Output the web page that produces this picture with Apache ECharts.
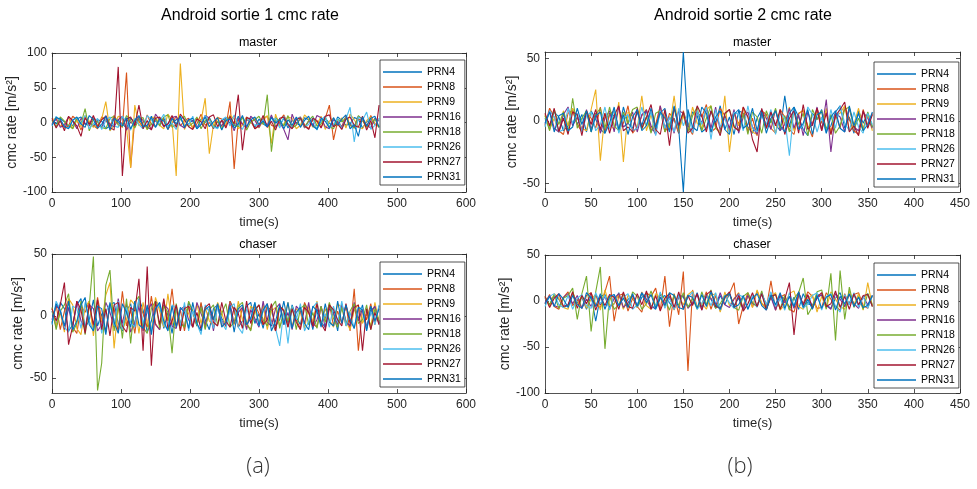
<!DOCTYPE html>
<html><head><meta charset="utf-8">
<script src="https://cdn.jsdelivr.net/npm/echarts@6/dist/echarts.min.js"></script>
<style>html,body{margin:0;padding:0;background:#fff}#c{width:977px;height:489px}</style>
</head><body><div id="c"></div>
<script>
const names = ['PRN4','PRN8','PRN9','PRN16','PRN18','PRN26','PRN27','PRN31'];
const colors = ['#0072BD','#D95319','#EDB120','#7E2F8E','#77AC30','#4DBEEE','#A2142F','#0072BD'];
const figTitles = ['Android sortie 1 cmc rate','Android sortie 2 cmc rate'];
const panelTitles = ['master','chaser'];
const subLabels = ['(a)','(b)'];
const yTicks1m = [-100,-50,0,50,100];
const yTicks1c = [-50,0,50];
const yTicks2m = [-50,0,50];
const yTicks2c = [-100,-50,0,50];

// time (s) samples
const t1 = [0,6,12,18,24,30,36,42,48,54,60,66,72,78,84,90,96,102,108,114,120,126,132,138,144,150,156,162,168,174,180,186,192,198,204,210,216,222,228,234,240,246,252,258,264,270,276,282,288,294,300,306,312,318,324,330,336,342,348,354,360,366,372,378,384,390,396,402,408,414,420,426,432,438,444,450,456,462,468,474];
const t2 = [0,5,10,15,20,25,30,35,40,45,50,55,60,65,70,75,80,85,90,95,100,105,110,115,120,125,130,135,140,145,150,155,160,165,170,175,180,185,190,195,200,205,210,215,220,225,230,235,240,245,250,255,260,265,270,275,280,285,290,295,300,305,310,315,320,325,330,335,340,345,350,355];

// sortie 1 master
const m1_PRN4 = [3,-2,6,1,-7,-4,5,8,-3,0, -6,4,2,-9,-5,7,3,-2,-8,6, 1,5,-4,-7,9,2,-3,6,-5,-1, 4,8,-6,-2,3,-9,5,0,7,-4, -8,3,6,-1,-5,9,-3,4,2,-7, 5,-2,-6,8,1,-4,6,-8,3,0, -5,7,4,-3,-9,2,6,-1,-6,8, 3,-4,-2,7,5,-8,1,6,-3,-5];
const m1_PRN8 = [-3,7,2,-8,-5,9,4,-11,6,1, -4,-9,8,3,-6,10,-2,-7,72,-65, 5,2,-8,11,-3,-6,7,4,-10,-1, 9,-5,3,6,-9,-2,12,-4,0,-8, 7,5,-6,30,-67,4,-3,8,2,-9, -5,6,9,-4,-7,3,11,-2,-6,5, 8,-3,-9,4,1,-7,6,25,-25,2, -6,9,-4,-8,5,3,-7,10,-2,-5];
const m1_PRN9 = [4,6,-5,-2,8,-9,3,-6,10,2, -7,-3,5,30,-12,-4,9,6,-8,-65, 25,-5,1,-10,7,8,-4,-9,12,3, -77,85,-10,4,-7,6,2,35,-45,-3, 8,-6,-2,11,5,-9,-4,7,-1,6, -8,3,10,-30,12,-5,-2,8,6,-9, -4,11,5,-7,-3,9,-10,2,6,-5, 7,-8,12,4,-6,-9,3,8,-2,-7];
const m1_PRN16 = [-2,5,-7,-4,8,3,-9,6,-1,-5, 7,2,-8,10,-3,-6,4,9,-11,1, -5,8,3,-7,-10,12,4,-6,-2,7, 9,-4,-8,5,2,-6,-3,10,6,-9, 1,-5,7,4,-12,6,-2,-8,9,3, -7,5,-4,11,-6,0,-10,-25,12,-3, 6,-8,2,-5,10,7,-6,-9,4,1, -7,8,-3,-6,9,5,-4,-8,6,2];
const m1_PRN18 = [3,-6,8,2,-4,-9,7,-2,20,-12, 5,1,-7,-9,6,9,-4,-6,10,3, -8,5,7,-10,-2,6,-5,8,11,-7, -3,4,9,-6,-1,8,-9,3,6,-8, 2,-10,5,7,-4,-6,8,-11,1,4, 9,-3,40,-42,7,2,-5,10,-8,-4, 6,-7,3,9,-5,-2,8,-6,-9,5, 1,7,-4,-8,10,3,-6,-2,5,-7];
const m1_PRN26 = [-5,9,2,-6,-8,4,7,-3,10,-9, -2,6,-10,3,8,-5,-7,9,1,-11, 6,-3,-9,10,4,-7,2,12,-6,-1, -10,7,5,-4,9,-8,-2,10,3,-6, -9,4,8,-5,11,-3,-10,6,2,-4, -3,4,-5,1,6,-8,9,-2,-7,5, 8,-6,-3,7,-11,4,9,-8,-2,6, -9,5,22,-28,8,3,15,-10,-4,6];
const m1_PRN27 = [6,-8,3,-12,9,2,-5,-20,7,-3, 10,-6,4,9,-7,-11,80,-77,5,8, -4,25,-9,3,-11,6,8,-5,-2,10, -7,12,4,-6,-10,5,1,-9,8,11, -6,3,-8,9,-2,40,-40,7,5,-9, -4,10,-7,2,-11,6,8,-3,-9,4, 7,-5,-10,6,3,-8,9,11,-6,-2, -10,5,8,-4,-7,9,-11,3,-22,25];
const m1_PRN31 = [-4,7,5,-6,-9,3,8,-2,-7,10, 4,-8,-3,9,-11,6,1,-5,7,-9, 3,10,-6,-4,8,-7,5,2,-10,6, -2,9,-7,4,6,-9,-3,8,-6,1, 7,-11,3,5,-8,-2,10,-6,4,8, -3,2,-6,7,-1,5,-9,4,-4,8, -7,3,9,-5,-10,6,2,-8,7,-4, 5,11,-9,-3,-20,8,-5,6,9,-7];

// sortie 1 chaser
const c1_PRN4 = [4,-9,11,6,-12,-7,9,14,-10,-3, 13,-8,2,-15,9,11,-6,-12,4,10, -9,14,5,-13,-4,12,8,-10,3,-14, 7,-5,-9,11,4,-8,10,-3,-11,6, 9,-2,-7,12,5,-9,-4,8,11,-6, 2,-10,7,5,-8,-3,12,-6,9,-1, -7,10,4,-11,6,-5,-9,8,3,-12, 10,-4,-8,6,-2,9,-10,5,7,-6];
const c1_PRN8 = [-5,9,-11,4,13,-9,-14,8,3,12, -10,15,-3,-12,9,6,-13,20,-8,5, -14,11,2,-9,16,-6,-11,13,-4,22, -9,5,-12,8,3,-7,11,-10,6,-2, 10,-8,-5,12,4,-9,7,-6,-11,9, 2,-7,10,-4,-12,8,5,-9,6,-3, -10,11,3,-6,-9,7,-2,10,-8,4, -6,9,-12,22,-28,6,-3,10,-7,8];
const c1_PRN9 = [6,-8,3,-13,14,9,-10,-15,7,12, -16,10,-5,17,27,-26,8,-11,-3,13, 9,-14,11,-6,-12,15,4,-9,18,-7, 5,-12,8,2,-9,10,-6,7,-4,-8, 11,3,-9,6,-7,12,-3,-10,8,5, -6,9,-11,4,7,-8,-2,11,-9,6, 3,-10,8,-5,12,-7,6,-3,-9,10, 7,-4,-11,5,9,-6,2,-8,11,-5];
const c1_PRN16 = [-3,8,5,-11,7,-9,12,-4,-10,9, 6,-12,-7,11,3,-9,14,-6,10,-13, -5,8,-12,4,10,-7,-11,9,6,-8, -10,5,8,-3,-9,11,2,-7,6,-12, 9,-4,-8,10,-6,3,7,-11,5,-2, -9,12,-5,-8,6,10,-7,3,-11,8, 4,-6,11,-9,-3,8,-10,6,2,-7, 9,-5,-8,11,-4,6,-9,3,8,-6];
const c1_PRN18 = [7,-11,4,9,18,-13,-6,12,-15,8, 48,-60,-38,25,37,-12,9,-18,14,-22, 11,16,-9,-14,6,12,-10,8,3,-30, 10,-6,-9,12,4,-8,7,-11,5,9, -7,2,10,-9,-5,8,11,-6,-12,4, 9,-3,-8,7,12,-10,5,-4,8,-11, 6,9,-7,3,-10,8,-5,11,-2,-9, 7,-8,4,10,-6,-3,9,-11,6,-4];
const c1_PRN26 = [-7,12,5,-9,-13,8,6,-10,11,-4, -12,9,-14,3,10,-8,12,-11,7,-5, -9,14,-6,8,-12,5,10,-7,-11,9, 6,-8,11,-12,4,-6,-15,9,3,-10, 8,-5,-11,7,10,-9,-14,6,-3,11, -8,4,9,-6,-10,-24,5,-22,8,-3, 10,-12,-4,7,11,-6,2,-9,8,-5, 12,-8,3,-10,7,6,-11,4,-7,9];
const c1_PRN27 = [6,-4,9,27,-23,-8,12,5,-14,10, -7,13,-11,6,-16,9,11,-8,-13,7, 4,30,-28,40,-40,12,-7,14,-10,-4, 9,-12,6,8,-9,3,-11,7,10,-5, -8,11,-4,-9,7,2,-10,12,-6,5, 9,-7,-3,10,-12,8,4,-9,6,-5, -11,7,3,-8,10,-6,-12,9,5,-3, -8,10,-6,7,9,-28,6,-11,3,-7];
const c1_PRN31 = [-6,10,4,-8,12,-11,-4,9,15,-7, -12,8,6,-13,11,-5,-14,10,3,-9, 12,-7,-10,9,-15,6,11,-4,-12,8, -9,7,3,-10,11,-6,-12,5,8,-3, 10,-9,-5,8,-13,6,9,-7,-2,11, -8,5,10,-12,-4,9,-7,11,-10,3, 7,-6,-11,8,4,-9,10,-5,-8,12, -6,9,-3,-10,7,5,-12,8,-4,6];

// sortie 2 master
const m2_PRN4 = [2,-6,7,3,-8,-4,9,-3,5,-9, 8,1,-7,-10,6,4,-8,11,-2,-6, 7,-4,9,-9,-3,6,10,-7,2,-10, 55,-5,7,4,-9,-6,8,-2,12,-7, 3,-11,8,6,-5,-10,2,9,-6,7, -3,-8,20,-5,11,3,-7,-12,6,1, 9,-8,-4,7,12,-6,3,-10,8,-2, 6,-5];
const m2_PRN8 = [-4,10,3,-8,-11,6,8,-3,-9,7, 2,-6,11,-9,5,8,-7,-2,12,-10, -5,4,9,-8,-3,12,-9,6,1,-10, 8,-5,-11,7,3,13,-9,-6,10,4, -8,7,-3,11,-9,2,-12,8,5,-6, -10,9,3,-7,-11,6,8,-4,-13,10, -2,7,-9,5,-6,12,1,-8,-11,9, -4,6];
const m2_PRN9 = [5,-7,2,-9,8,-4,10,3,-6,-8, 9,25,-32,6,-3,-7,15,-33,7,4, -6,20,-8,5,-10,9,3,-6,20,-9, 4,-8,11,-2,-6,9,12,-5,-9,20, -25,6,-4,10,3,-9,-11,8,-6,2, -10,7,-3,11,-8,5,9,-6,-2,8, -7,10,-11,4,6,12,-8,-3,10,-6, 5,-8];
const m2_PRN16 = [-3,8,-6,-9,5,11,-4,3,-8,9, -7,6,-10,2,8,-9,11,-5,-2,7, -9,5,8,-4,-11,12,-6,3,-10,8, 6,-4,-9,7,-2,10,-6,11,-8,4, -6,9,-10,3,7,-5,-11,8,2,-7, 9,-8,-3,10,-6,5,-12,7,-4,11, -8,17,-25,6,3,-9,10,-5,-8,7, 2,-6];
const m2_PRN18 = [4,-8,9,-3,7,-10,18,-6,2,8, -9,5,10,-6,11,-4,-8,7,-2,9, 11,-7,3,-10,6,8,-9,-3,10,-5, 7,-9,4,11,-8,2,12,-6,-10,5, 9,-4,-8,6,-11,7,3,-10,8,-2, 10,-6,4,-9,8,-3,6,-12,9,1, 8,-7,5,-10,-4,9,11,-6,2,-8, 7,-5];
const m2_PRN26 = [-5,8,3,-9,-7,10,-2,6,-9,4, 7,-8,-3,11,-7,9,-10,2,5,-8, -6,11,-4,7,-12,8,-6,3,-9,10, -4,6,-10,8,-3,11,-15,9,-5,2, -10,7,5,-8,12,-6,-9,4,-3,9, -11,6,2,-28,10,-7,-4,11,5,-9, 3,-10,9,-6,12,-2,-8,7,-5,-10, 6,-3];
const m2_PRN27 = [6,-4,10,-9,2,-11,7,5,-12,8, -3,9,-7,6,-10,4,12,-8,-5,-9, 10,-6,3,13,-7,-11,9,-20,11,-4, 7,-10,-6,12,4,-9,8,-3,-12,6, 9,-5,-8,11,3,-15,-25,10,-6,7, -4,9,-11,2,8,-10,13,-7,-3,10, -8,6,-11,4,9,15,-9,-4,-12,8, -6,5];
const m2_PRN31 = [-2,7,-9,4,6,-8,-5,10,-3,8, -9,4,7,-10,-2,11,-7,5,-11,3, 9,-8,-4,10,-6,7,2,-9,12,-6, -57,9,-5,-8,11,6,-9,3,8,-7, -11,5,9,-6,-3,10,-8,7,-10,2, 8,-4,-9,6,11,-7,-2,9,-11,5, 7,-10,3,8,-6,-9,12,-4,6,-8, -3,7];

// sortie 2 chaser
const c2_PRN4 = [3,-4,6,2,-7,-5,8,-2,4,-9, 6,-22,5,7,-6,-3,9,-8,2,5, -7,4,8,-5,-9,3,6,-2,-8,7, 4,-6,-3,9,-7,5,2,-8,6,-4, 8,-5,3,-9,7,-2,-6,9,-4,5, -8,6,2,-7,4,-9,8,-3,-5,7, 6,-4,-8,3,9,-6,-2,7,-5,4, 8,-6];
const c2_PRN8 = [-3,7,-6,-9,4,10,-5,2,-8,6, 9,-4,-7,10,27,-22,6,8,-11,3, -6,-12,9,5,14,-10,27,-28,8,-15, 32,-76,12,-7,-4,10,-9,6,-11,3, 8,20,-25,-5,9,-7,11,-3,-8,22, -10,4,7,-9,-12,6,-3,10,5,-8, -7,9,2,-6,-10,8,-4,7,9,-5, -8,6];
const c2_PRN9 = [4,-6,8,3,-7,-9,10,-4,6,-8, 2,7,-10,12,-5,-3,8,-9,6,4, -7,10,-5,-9,8,3,-6,9,-10,5, -4,7,11,-8,-2,-9,6,8,-12,10, -5,3,9,-10,6,-7,12,-2,-8,5, 9,-10,-4,8,11,-6,-9,3,7,-12, 5,-8,10,2,-6,-9,11,-4,8,-10, 20,-6];
const c2_PRN16 = [-2,6,-5,-7,4,8,-3,6,-8,2, -6,7,-4,5,-9,3,8,-7,-2,6, -5,9,2,-8,-6,7,-3,5,-9,4, 6,-8,-2,7,-10,5,3,-6,9,-4, -7,2,8,-9,6,-3,-5,8,-7,4, -10,7,-2,5,-8,9,-4,6,-6,3, 7,-5,-9,8,2,-6,7,-3,-8,5, -4,6];
const c2_PRN18 = [5,-4,7,-8,3,6,14,-20,8,27, -33,10,37,-52,6,-9,-4,8,-7,10, 5,-9,-3,11,-6,8,2,-10,7,-5, 9,-7,3,-9,10,-4,12,-8,-3,6, 8,-7,-10,5,9,-2,-6,11,-9,4, 7,-8,6,-10,3,9,25,-15,-6,10, 12,-9,30,-43,33,-20,15,-7,5,-9, 8,-4];
const c2_PRN26 = [-6,5,8,-4,-7,6,-9,3,7,-5, -8,9,-3,6,-10,7,-6,4,8,-9, -4,8,6,-7,-5,10,-8,3,-9,6, -7,4,10,-9,-3,7,-5,9,-10,6, -2,-8,7,4,-9,6,-7,8,-4,10, -6,3,-10,9,-5,7,-8,-3,6,9, -10,5,8,-6,-12,7,-4,9,-7,5, -8,6];
const c2_PRN27 = [5,-7,3,8,-6,-4,10,-8,6,-3, 9,-10,5,-5,7,4,-9,10,-6,-8, 8,-4,11,-9,6,-11,3,8,-7,10, -9,6,-5,8,-10,7,11,-6,-8,4, 10,-7,6,-11,-3,9,-6,8,-10,5, 7,-9,2,20,-37,10,-5,7,-8,4, 9,-6,-3,11,-7,5,-9,8,-4,6, 7,-6];
const c2_PRN31 = [-3,5,-6,8,2,-7,6,-4,-8,9, 3,-6,8,-9,5,7,-5,3,-7,8, -6,9,-2,7,-8,4,-5,9,6,-7, -9,6,4,-8,7,-6,10,-3,-9,5, 8,-7,-4,6,-9,3,8,-5,-10,7, -4,9,-8,5,-6,10,-7,2,-9,6, -8,4,7,-10,5,-3,8,-6,4,-7, -5,6];

const panels = [
  {t: t1, vals: [m1_PRN4,m1_PRN8,m1_PRN9,m1_PRN16,m1_PRN18,m1_PRN26,m1_PRN27,m1_PRN31], grid:{left:52,top:53,width:414,height:139}, x:[0,600,100], y:[-100,100], yt:yTicks1m, nameGap:33, legend:{left:380,top:60}},
  {t: t1, vals: [c1_PRN4,c1_PRN8,c1_PRN9,c1_PRN16,c1_PRN18,c1_PRN26,c1_PRN27,c1_PRN31], grid:{left:52,top:254,width:414,height:139}, x:[0,600,100], y:[-62,50], yt:yTicks1c, nameGap:27, legend:{left:380,top:262}},
  {t: t2, vals: [m2_PRN4,m2_PRN8,m2_PRN9,m2_PRN16,m2_PRN18,m2_PRN26,m2_PRN27,m2_PRN31], grid:{left:545,top:52,width:415,height:140}, x:[0,450,50], y:[-57,55], yt:yTicks2m, nameGap:25, legend:{left:874,top:62}},
  {t: t2, vals: [c2_PRN4,c2_PRN8,c2_PRN9,c2_PRN16,c2_PRN18,c2_PRN26,c2_PRN27,c2_PRN31], grid:{left:545,top:255,width:415,height:138}, x:[0,450,50], y:[-100,50], yt:yTicks2c, nameGap:32, legend:{left:874,top:263}}
];

const FONT = 'Liberation Sans, Arial, sans-serif';
const AX = '#262626';
const grids = [], xAxes = [], yAxes = [], series = [], legends = [];
panels.forEach((p, g) => {
  grids.push(Object.assign({}, p.grid));
  const tickX = {show:true, inside:true, length:4, lineStyle:{color:AX, width:0.8}};
  const xBase = {type:'value', gridIndex:g, min:p.x[0], max:p.x[1], interval:p.x[2], splitLine:{show:false},
    axisLine:{show:true, onZero:false, lineStyle:{color:AX, width:0.8}}, axisTick:tickX};
  xAxes.push(Object.assign({}, xBase, {position:'bottom', name:'time(s)', nameLocation:'middle', nameGap:24,
    nameTextStyle:{fontSize:13, color:AX, fontFamily:FONT},
    axisLabel:{show:true, margin:6, fontSize:12, color:AX, fontFamily:FONT, showMinLabel:true, showMaxLabel:true}}));
  xAxes.push(Object.assign({}, xBase, {position:'top', axisLabel:{show:false}}));
  const tickY = {show:true, inside:true, length:4, lineStyle:{color:AX, width:0.8}, customValues:p.yt};
  const yBase = {type:'value', gridIndex:g, min:p.y[0], max:p.y[1], splitLine:{show:false},
    axisLine:{show:true, onZero:false, lineStyle:{color:AX, width:0.8}}, axisTick:tickY};
  yAxes.push(Object.assign({}, yBase, {position:'left', name:'cmc rate [m/s²]', nameLocation:'middle', nameRotate:90, nameGap:p.nameGap,
    nameTextStyle:{fontSize:14, color:AX, fontFamily:FONT},
    axisLabel:{show:true, margin:5, fontSize:12, color:AX, fontFamily:FONT, customValues:p.yt}}));
  yAxes.push(Object.assign({}, yBase, {position:'right', axisLabel:{show:false}}));
  p.vals.forEach((v, k) => {
    series.push({type:'line', name:names[k], xAxisIndex:2*g, yAxisIndex:2*g,
      data: p.t.map((tt, i) => [tt, v[i]]), showSymbol:false, symbol:'none',
      lineStyle:{color:colors[k], width:1.1}, itemStyle:{color:colors[k]}, silent:true});
  });
  legends.push({orient:'vertical', left:p.legend.left, top:p.legend.top, data:names, icon:'rect',
    itemWidth:39, itemHeight:1.3, itemGap:1, itemTextGap:3, padding:[5,4,1,3],
    borderColor:AX, borderWidth:0.8, backgroundColor:'#fff', selectedMode:false,
    textStyle:{fontSize:10.5, lineHeight:14, color:'#000', fontFamily:FONT}});
});

const graphics = [];
const titleX = [250, 743];
figTitles.forEach((s, i) => graphics.push({type:'text', x:titleX[i], y:16, style:{text:s, align:'center', textAlign:'center', verticalAlign:'middle', textVerticalAlign:'middle', fontSize:16, fontFamily:FONT, fill:'#000'}}));
const ptX = [[258,258],[752,752]];
const ptY = [43, 245];
[0,1].forEach(c => panelTitles.forEach((s, r) => graphics.push({type:'text', x:ptX[c][r], y:ptY[r], style:{text:s, align:'center', textAlign:'center', verticalAlign:'middle', textVerticalAlign:'middle', fontSize:12.5, fontFamily:FONT, fill:'#000'}})));
const subX = [258, 740];
subLabels.forEach((s, i) => graphics.push({type:'text', x:subX[i], y:467, style:{text:s, align:'center', textAlign:'center', verticalAlign:'middle', textVerticalAlign:'middle', fontSize:22, fontWeight:300, fontFamily:'Open Sans, Noto Sans, sans-serif', fill:'#333'}}));

const chart = echarts.init(document.getElementById('c'), null, {renderer:'canvas'});
chart.setOption({
  animation:false, backgroundColor:'#fff', textStyle:{fontFamily:FONT},
  grid:grids, xAxis:xAxes, yAxis:yAxes, series:series, legend:legends, graphic:graphics
});
</script></body></html>
